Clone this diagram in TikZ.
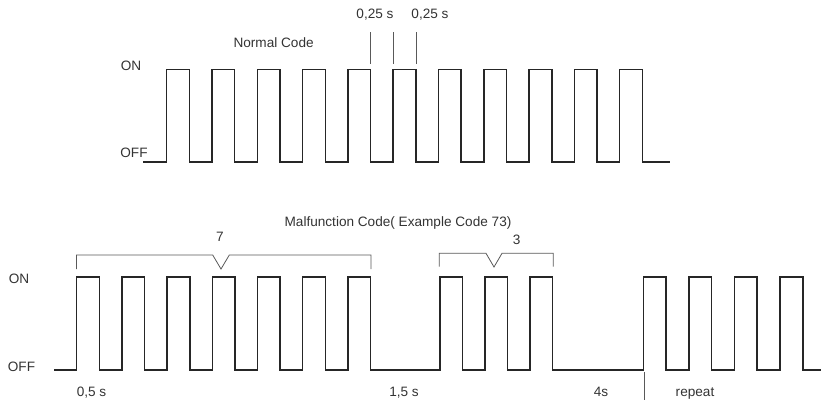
\documentclass[tikz,border=0pt]{standalone}
\usepackage{fontspec}
\setmainfont{Liberation Sans}
\usepackage{tikz}
\usetikzlibrary{calc}

\begin{document}
\begin{tikzpicture}[x=1pt,y=-1pt,
    signal/.style={line width=1.5pt,color=black!85,line join=miter},
    mark line/.style={line width=0.8pt,color=black!65},
    lbl/.style={inner sep=0pt,text=black!80,font=\fontsize{13.6}{16}\selectfont}]
  \useasboundingbox (0,0) rectangle (821,400);

  % normal code
  \node[lbl](normal)at(273.6,42.7){Normal Code};
  \node[lbl](on1)at(131,66){ON};
  \node[lbl](off1)at(134,153){OFF};
  \draw[signal] (143,162) foreach \k in {0,...,10} {
      -- ({166.7+45.3*\k},162) -- ++(0,-92.5) -- ++(22.7,0) -- ++(0,92.5)} -- (670,162);
  \foreach \x in {370.6,393.2,415.9}
    \draw[mark line] (\x,32) -- (\x,64);
  \node[lbl](ta)at(375,15){0,25 s};
  \node[lbl](tb)at(430,15){0,25 s};

  % malfunction code
  \node[lbl](malf)at(398,222.7){Malfunction Code( Example Code 73)};
  \node[lbl](on2)at(19,279){ON};
  \node[lbl](off2)at(21.5,366.7){OFF};
  \draw[signal] (54.3,370)
    foreach \k in {0,...,6} {
      -- ({76.7+45.2*\k},370) -- ++(0,-93) -- ++(22.7,0) -- ++(0,93)}
    foreach \k in {0,...,2} {
      -- ({440+45*\k},370) -- ++(0,-93) -- ++(22.7,0) -- ++(0,93)}
    foreach \k in {0,...,3} {
      -- ({643.3+45.6*\k},370) -- ++(0,-93) -- ++(22.7,0) -- ++(0,93)}
    -- (821,370);
  \draw[mark line] (76.5,269) -- (76.5,255) -- (212.7,255) -- (221,269) -- (229.3,255) -- (371,255) -- (371,269);
  \node[lbl](seven)at(220,236.7){7};
  \draw[mark line] (439.3,266.7) -- (439.3,253.3) -- (486,253.3) -- (494,267) -- (502,253.3) -- (553.3,253.3) -- (553.3,266.7);
  \node[lbl](three)at(516.7,240){3};
  \node[lbl](t05)at(91.5,393){0,5 s};
  \node[lbl](t15)at(404,393){1,5 s};
  \node[lbl](t4)at(601,391.7){4s};
  \draw[mark line] (644,372) -- (644,400);
  \node[lbl](rep)at(695,394){repeat};
\end{tikzpicture}
\end{document}
